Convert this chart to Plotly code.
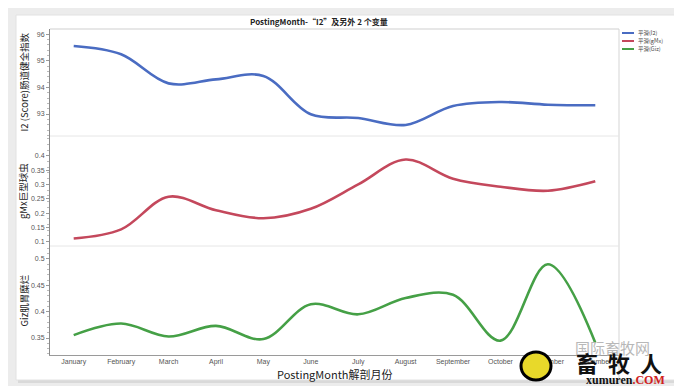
import plotly.graph_objects as go

months = ["January", "February", "March", "April", "May", "June", "July",
          "August", "September", "October", "November", "December"]
i2 = [95.55, 95.24, 94.15, 94.30, 94.43, 92.99, 92.85, 92.59, 93.30, 93.45, 93.35, 93.33]
gmx = [0.111, 0.143, 0.257, 0.210, 0.182, 0.215, 0.300, 0.387, 0.320, 0.292, 0.278, 0.311]
giz = [0.3555, 0.3775, 0.353, 0.373, 0.348, 0.414, 0.395, 0.426, 0.432, 0.345, 0.490, 0.341]

series_names = ["平滑(I2)", "平滑(gMx)", "平滑(Giz)"]
colors = ["#4a6cc2", "#c4485c", "#45a046"]
y_titles = ["I2 (Score)肠道健全指数", "gMx巨型球虫", "Giz肌胃糜烂"]
title_text = "PostingMonth-“I2”及另外 2 个变量"
x_title = "PostingMonth解剖月份"

W, H = 682, 386
L, R, T, B = 42, 611, 21, 347
PW, PH = R - L, B - T


def px(x):
    return (x - L) / PW


def py(y):
    return (B - y) / PH


sep1, sep2 = 128, 238
FONT = "Liberation Sans, Arial, sans-serif"
CJK = "Noto Sans CJK SC, sans-serif"

fig = go.Figure()
for vals, name, col, ax in zip([i2, gmx, giz], series_names, colors, ["y", "y2", "y3"]):
    fig.add_trace(go.Scatter(
        x=months, y=vals, mode="lines", name=name, xaxis="x", yaxis=ax,
        line=dict(color=col, width=2.6, shape="spline", smoothing=1.0),
        showlegend=False, hoverinfo="skip"))

tickfont = dict(family=FONT, size=7, color="#555")
yax_common = dict(anchor="x", showgrid=False, zeroline=False, showline=True,
                  linecolor="#8a8a8a", linewidth=1, ticks="outside", ticklen=3,
                  tickcolor="#9a9a9a", tickfont=tickfont,
                  minor=dict(ticks="outside", ticklen=2, tickcolor="#bbb"))

fig.update_layout(
    width=W, height=H,
    margin=dict(l=L, r=W - R, t=T, b=H - B),
    paper_bgcolor="#ececec", plot_bgcolor="white",
    showlegend=False,
    xaxis=dict(anchor="y3", domain=[0, 1], range=[-0.5, 11.5], showgrid=False,
               showline=True, linecolor="#9a9a9a", linewidth=1, ticks="",
               tickfont=tickfont, zeroline=False),
    yaxis=dict(domain=[py(sep1), 1], range=[92.175, 96.19],
               tickvals=[93, 94, 95, 96], **yax_common),
    yaxis2=dict(domain=[py(sep2), py(sep1)], range=[0.085, 0.469],
                tickvals=[0.1, 0.15, 0.2, 0.25, 0.3, 0.35, 0.4],
                ticktext=["0.1", "0.15", "0.2", "0.25", "0.3", "0.35", "0.4"], **yax_common),
    yaxis3=dict(domain=[0, py(sep2)], range=[0.3178, 0.5246],
                tickvals=[0.35, 0.4, 0.45, 0.5],
                ticktext=["0.35", "0.4", "0.45", "0.5"], **yax_common),
)

shapes = []
# card shadow and card
shapes.append(dict(type="rect", xref="paper", yref="paper", layer="below",
                   x0=px(10), x1=px(671), y0=py(9), y1=py(375),
                   fillcolor="#d9d9d9", line=dict(width=0)))
shapes.append(dict(type="rect", xref="paper", yref="paper", layer="below",
                   x0=px(8), x1=px(667), y0=py(7), y1=py(372),
                   fillcolor="white", line=dict(color="#e2e2e2", width=1)))
# plot frame top/right
shapes.append(dict(type="line", xref="paper", yref="paper", x0=0, x1=1, y0=1, y1=1,
                   line=dict(color="#cfcfcf", width=1)))
shapes.append(dict(type="line", xref="paper", yref="paper", x0=1, x1=1, y0=py(372), y1=1,
                   line=dict(color="#d5d5d5", width=1)))
# panel separators
for s in (sep1, sep2):
    shapes.append(dict(type="line", xref="paper", yref="paper", x0=0, x1=1,
                       y0=py(s), y1=py(s), line=dict(color="#e6e6e6", width=1)))
# legend samples
leg_y = [25, 33, 41]
for yy, col in zip(leg_y, colors):
    shapes.append(dict(type="line", xref="paper", yref="paper",
                       x0=px(614), x1=px(626), y0=py(yy), y1=py(yy),
                       line=dict(color=col, width=2)))
# logo heart
shapes.append(dict(type="circle", xref="paper", yref="paper",
                   x0=px(513), x1=px(543), y0=py(372), y1=py(344),
                   fillcolor="#e8d92a", line=dict(color="black", width=3)))
fig.update_layout(shapes=shapes)

ann = []
ann.append(dict(text="<b>" + title_text + "</b>", x=px(311), y=py(14), xref="paper", yref="paper",
                showarrow=False, xanchor="center", yanchor="middle",
                font=dict(family=CJK, size=8, color="#222")))
ypos = [(sep1 + T) / 2, (sep1 + sep2) / 2, (sep2 + B) / 2]
for t, yc in zip(y_titles, ypos):
    ann.append(dict(text=t, x=px(15), y=py(yc), xref="paper", yref="paper",
                    showarrow=False, textangle=-90, xanchor="center", yanchor="middle",
                    font=dict(family=CJK, size=9.5, color="#222")))
ann.append(dict(text=x_title, x=px(326), y=py(366), xref="paper", yref="paper",
                showarrow=False, xanchor="center", yanchor="middle",
                font=dict(family=CJK, size=11, color="#222")))
for yy, name in zip(leg_y, series_names):
    ann.append(dict(text=name, x=px(628), y=py(yy), xref="paper", yref="paper",
                    showarrow=False, xanchor="left", yanchor="middle",
                    font=dict(family=CJK, size=5.5, color="#444")))
# watermark text
ann.append(dict(text="国际畜牧网", x=px(604), y=py(339), xref="paper", yref="paper",
                showarrow=False, xanchor="center", yanchor="middle",
                font=dict(family=CJK, size=15, color="#b8b8b8")))
ann.append(dict(text="<b>畜&nbsp;&nbsp;牧&nbsp;&nbsp;人</b>", x=px(611), y=py(354), xref="paper", yref="paper",
                showarrow=False, xanchor="center", yanchor="middle",
                font=dict(family=CJK, size=22, color="#111")))
ann.append(dict(text="<b>xumuren<span style='color:#d02020'>.COM</span></b>",
                x=px(617), y=py(372), xref="paper", yref="paper",
                showarrow=False, xanchor="center", yanchor="middle",
                font=dict(family="Liberation Serif, serif", size=12, color="#111")))
fig.update_layout(annotations=ann)

fig.write_html("out.html")
